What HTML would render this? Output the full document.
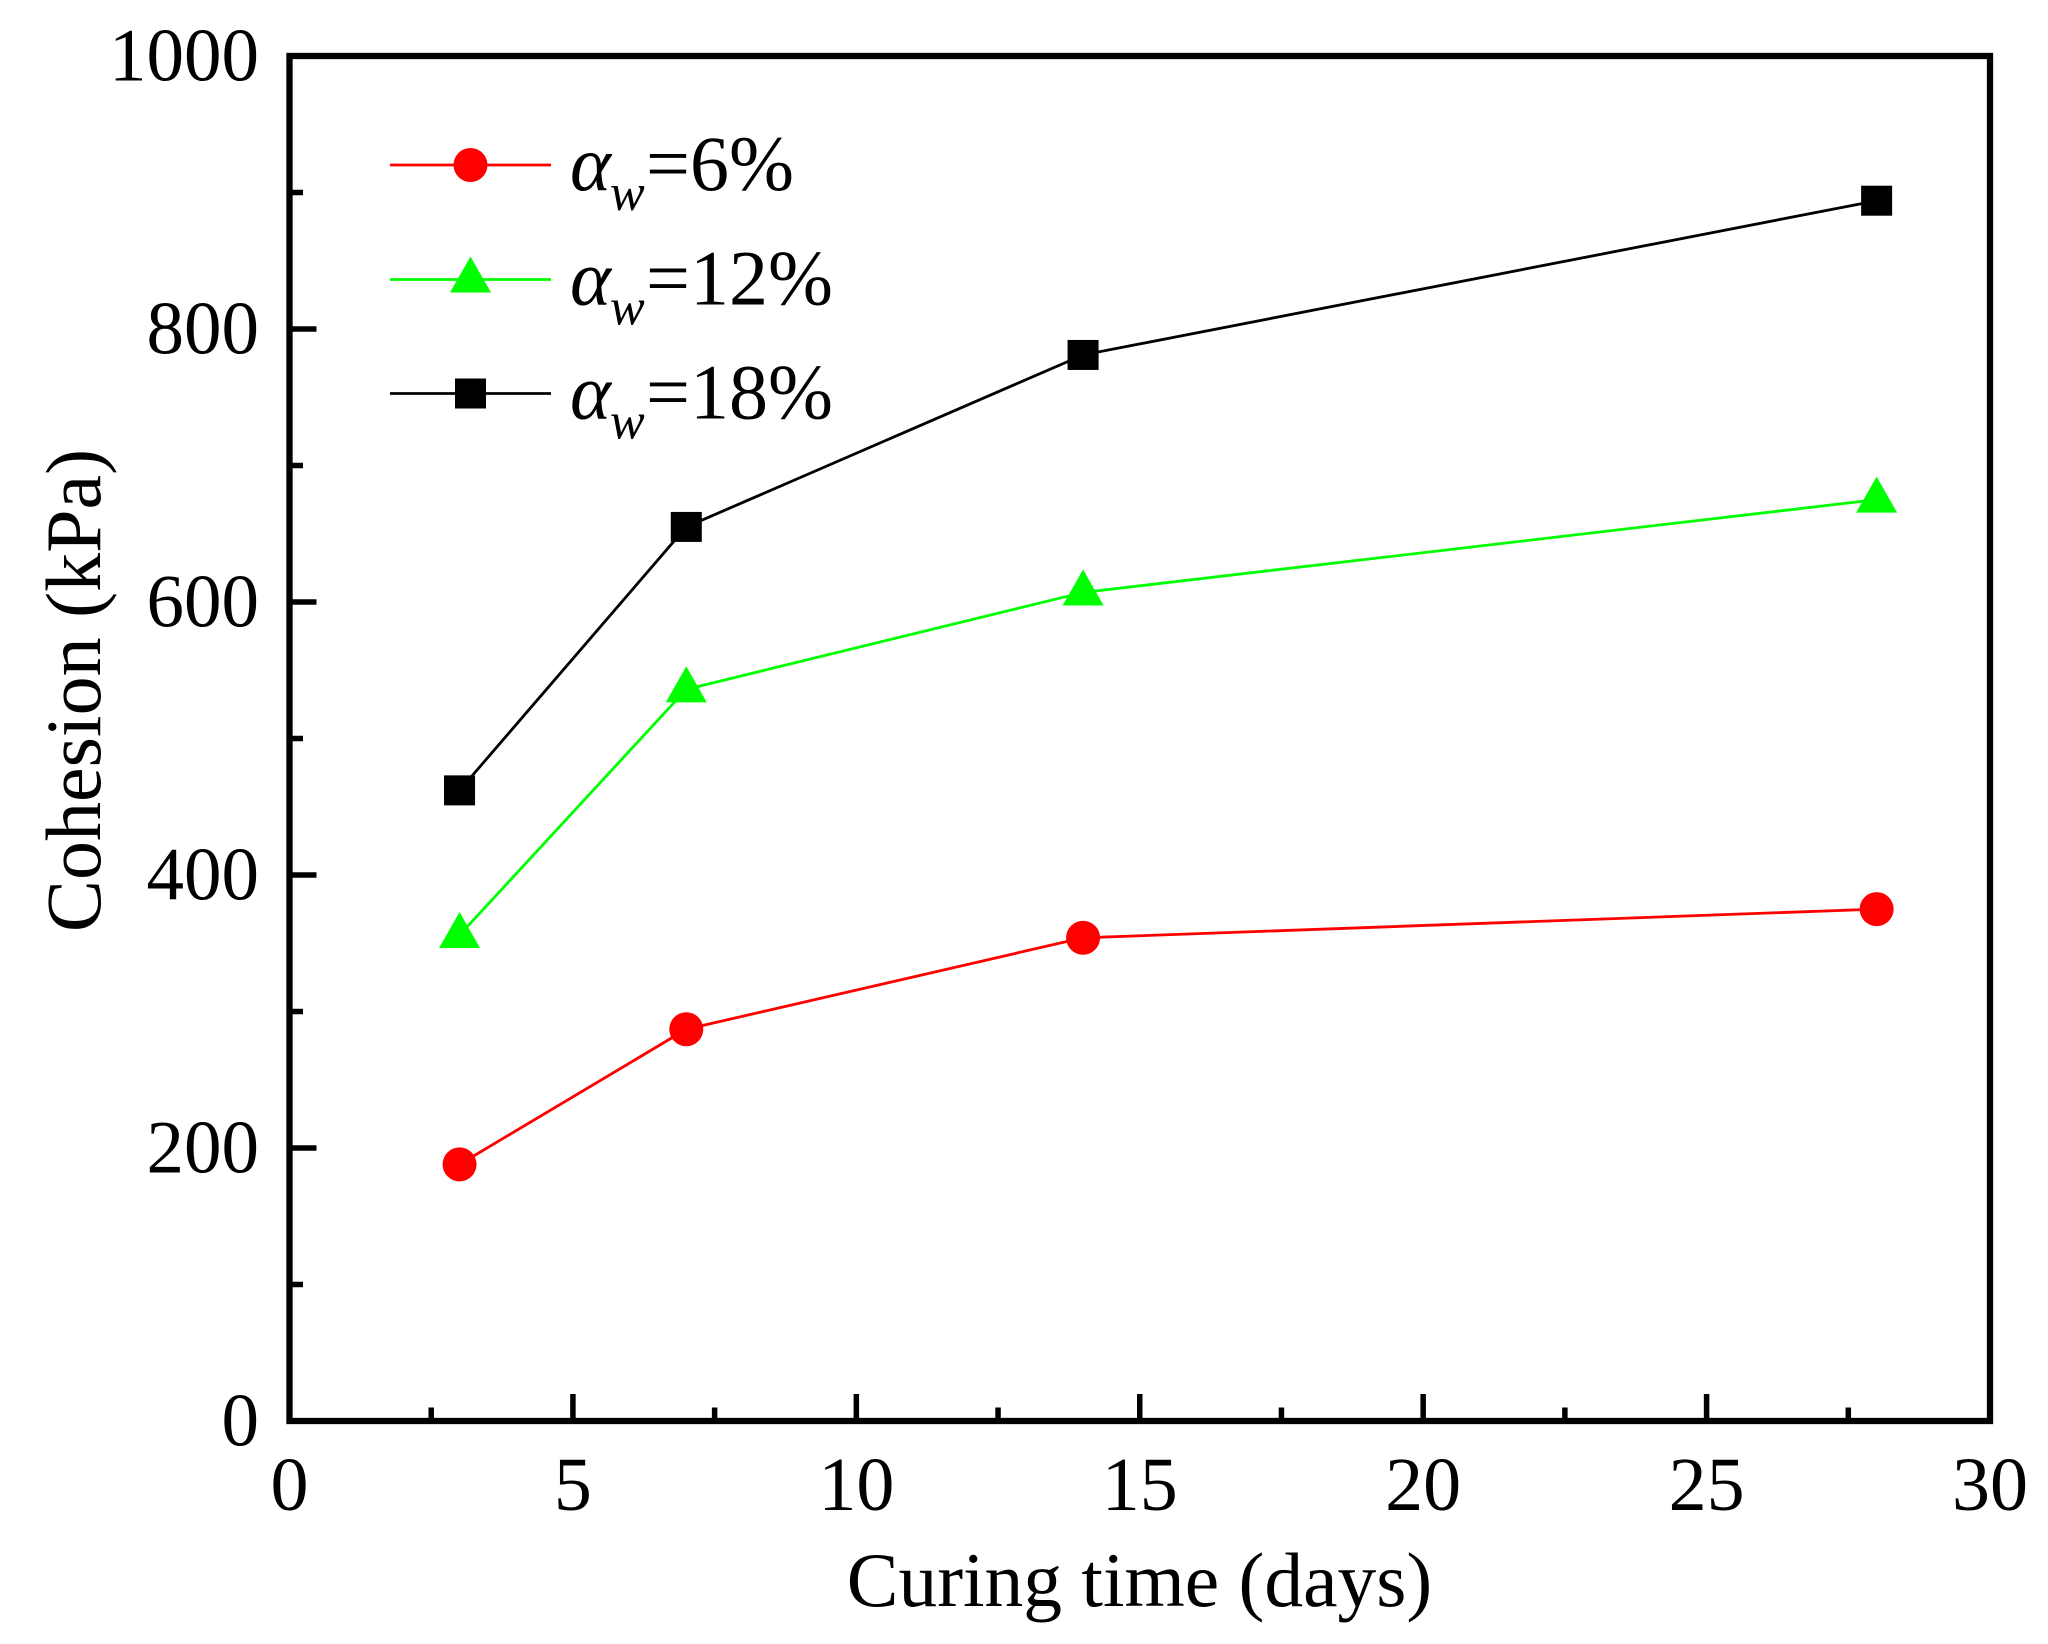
<!DOCTYPE html>
<html>
<head>
<meta charset="utf-8">
<title>Cohesion vs curing time</title>
<style>
html,body{margin:0;padding:0;background:#fff;width:2048px;height:1644px;overflow:hidden}
svg{display:block}
text{font-family:"Liberation Serif",serif;fill:#000}
</style>
</head>
<body>
<svg id="chart" xmlns="http://www.w3.org/2000/svg" width="2048" height="1644" viewBox="0 0 2048 1644">
<rect width="2048" height="1644" fill="#fff"/>
<text x="1139.5" y="1606" font-size="77.5" text-anchor="middle">Curing time (days)</text>
<text transform="translate(100,690.5) rotate(-90)" font-size="78" text-anchor="middle">Cohesion (kPa)</text>
<g id="marks"></g>
</svg>
<script>
const days = [3, 7, 14, 28];
const cohesion6 = [188, 287, 354, 375];
const cohesion12 = [356, 536, 607, 675];
const cohesion18 = [462, 655, 781, 894];
const xMajorTicks = [0, 5, 10, 15, 20, 25, 30];
const xMinorTicks = [2.5, 7.5, 12.5, 17.5, 22.5, 27.5];
const yMajorTicks = [0, 200, 400, 600, 800, 1000];
const yMinorTicks = [100, 300, 500, 700, 900];
const legendSuffixes = ['=6%', '=12%', '=18%'];

const NS = 'http://www.w3.org/2000/svg';
const root = document.getElementById('marks');
const L = 289.5, R = 1990, T = 56, B = 1421;
const X = function (v) { return L + (v / 30) * (R - L); };
const Y = function (v) { return B - (v / 1000) * (B - T); };

function make(tag, attrs, parent) {
  const el = document.createElementNS(NS, tag);
  for (const k in attrs) el.setAttribute(k, attrs[k]);
  (parent || root).appendChild(el);
  return el;
}

function drawMarker(kind, cx, cy, color, parent) {
  if (kind === 'circle') {
    return make('circle', { cx: cx, cy: cy, r: 17, fill: color }, parent);
  }
  if (kind === 'triangle') {
    const pts = (cx - 20.5) + ',' + (cy + 13) + ' ' + (cx + 20.5) + ',' + (cy + 13) + ' ' + cx + ',' + (cy - 23);
    return make('polygon', { points: pts, fill: color }, parent);
  }
  return make('rect', { x: cx - 15.5, y: cy - 15, width: 31, height: 30, fill: color }, parent);
}

// axis ticks
xMajorTicks.forEach(function (v) {
  const t = make('line', { x1: X(v), x2: X(v), y1: B, y2: B - 27, stroke: '#000', 'stroke-width': 5.5 });
  
  
  const l = make('text', { x: X(v), y: 1510, 'font-size': 76, 'text-anchor': 'middle' });
  l.textContent = String(v);
  
  
});
xMinorTicks.forEach(function (v) {
  const t = make('line', { x1: X(v), x2: X(v), y1: B, y2: B - 13.5, stroke: '#000', 'stroke-width': 5.5 });
  
  
});
yMajorTicks.forEach(function (v) {
  const t = make('line', { x1: L, x2: L + 27, y1: Y(v), y2: Y(v), stroke: '#000', 'stroke-width': 5.5 });
  
  
  const l = make('text', { x: 259, y: Y(v) + 24.5, 'font-size': 75, 'text-anchor': 'end' });
  l.textContent = String(v);
  
  
});
yMinorTicks.forEach(function (v) {
  const t = make('line', { x1: L, x2: L + 13.5, y1: Y(v), y2: Y(v), stroke: '#000', 'stroke-width': 5.5 });
  
  
});

// plot frame
const frame = make('rect', { x: L, y: T, width: R - L, height: B - T, fill: 'none', stroke: '#000', 'stroke-width': 6.3 });



// series
function drawSeries(values, color, kind, name) {
  const g = make('g', {});
  
  
  const pts = values.map(function (v, i) { return X(days[i]) + ',' + Y(v); }).join(' ');
  const line = make('polyline', { points: pts, fill: 'none', stroke: color, 'stroke-width': 2.8 }, g);
  
  
  values.forEach(function (v, i) {
    const m = drawMarker(kind, X(days[i]), Y(v), color, g);
    
    
  });
}
drawSeries(cohesion6, '#ff0000', 'circle', 'series-6-percent');
drawSeries(cohesion12, '#00ff00', 'triangle', 'series-12-percent');
drawSeries(cohesion18, '#000000', 'square', 'series-18-percent');

// legend
function drawLegendEntry(index, color, kind, y) {
  const g = make('g', {});
  
  
  const sw = make('line', { x1: 390, x2: 551, y1: y, y2: y, stroke: color, 'stroke-width': 2.8 }, g);
  
  
  const m = drawMarker(kind, 470.5, y, color, g);
  
  
  const a = make('text', { x: 570, y: y + 25, 'font-size': 78, 'font-style': 'italic' }, g);
  a.textContent = '\u03B1';
  
  
  const w = make('text', { x: 610, y: y + 45, 'font-size': 52, 'font-style': 'italic' }, g);
  w.textContent = 'w';
  
  
  const s = make('text', { x: 646, y: y + 25, 'font-size': 78 }, g);
  s.textContent = legendSuffixes[index];
  
  
}
drawLegendEntry(0, '#ff0000', 'circle', 165);
drawLegendEntry(1, '#00ff00', 'triangle', 279.5);
drawLegendEntry(2, '#000000', 'square', 393.5);
</script>
</body>
</html>
